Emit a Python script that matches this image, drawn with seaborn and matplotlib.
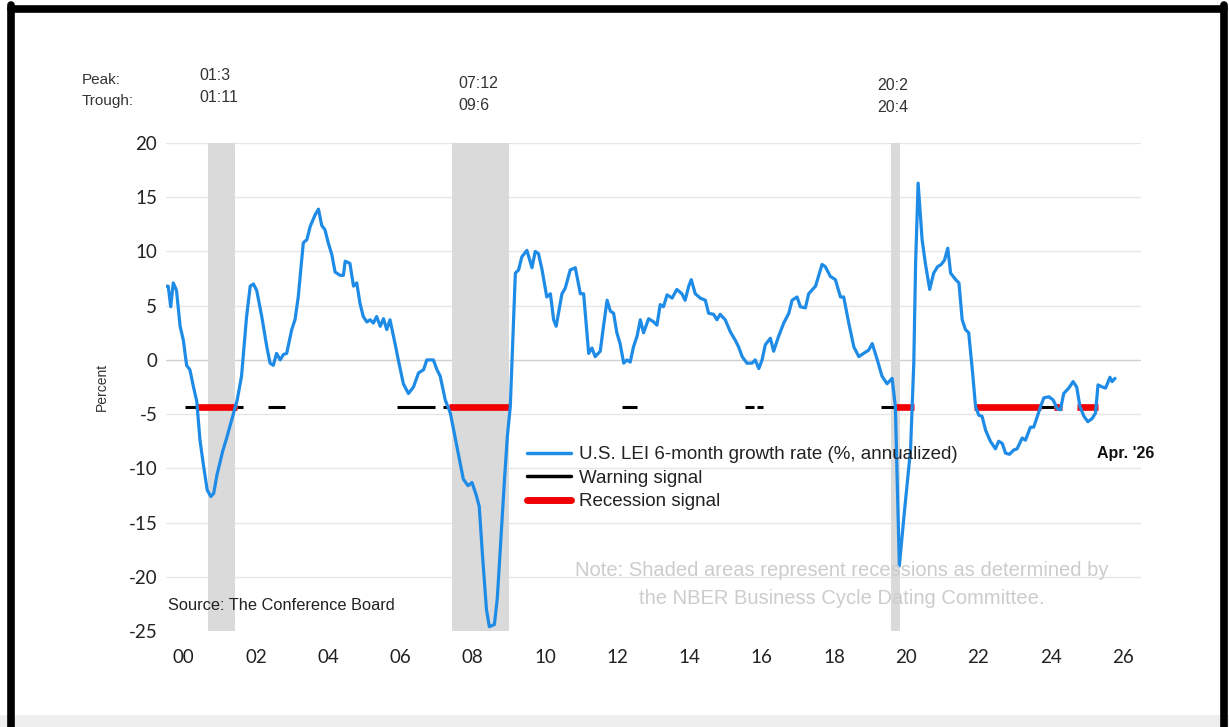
import numpy as np
import seaborn as sns
import pandas as pd
import matplotlib.pyplot as plt
from matplotlib.lines import Line2D
from matplotlib.patches import Rectangle

sns.set_style("white")
plt.rcParams["font.family"] = ["Liberation Sans", "DejaVu Sans"]

# U.S. LEI 6-month growth rate (% annualized)
lei_year = [
    2000.00, 2000.07, 2000.14, 2000.21, 2000.30, 2000.40, 2000.49, 2000.58, 2000.67, 2000.77,
    2000.86, 2000.95, 2001.05, 2001.15, 2001.25, 2001.33, 2001.42, 2001.50, 2001.58, 2001.68,
    2001.78, 2001.98, 2002.10, 2002.24, 2002.34, 2002.43, 2002.52, 2002.66, 2002.80, 2002.89,
    2002.98, 2003.07, 2003.17, 2003.26, 2003.35, 2003.49, 2003.58, 2003.67, 2003.81, 2003.91,
    2004.00, 2004.14, 2004.23, 2004.32, 2004.41, 2004.50, 2004.60, 2004.69, 2004.83, 2004.92,
    2004.97, 2005.10, 2005.20, 2005.29, 2005.38, 2005.47, 2005.57, 2005.66, 2005.75, 2005.84,
    2005.94, 2006.03, 2006.12, 2006.21, 2006.35, 2006.44, 2006.58, 2006.72, 2006.86, 2007.00,
    2007.14, 2007.23, 2007.32, 2007.41, 2007.51, 2007.60, 2007.74, 2007.88, 2008.01, 2008.15,
    2008.24, 2008.37, 2008.48, 2008.60, 2008.68, 2008.77, 2008.88, 2008.96, 2009.10, 2009.18,
    2009.27, 2009.38, 2009.46, 2009.54, 2009.68, 2009.77, 2009.86, 2010.00, 2010.14, 2010.23,
    2010.32, 2010.42, 2010.55, 2010.65, 2010.74, 2010.81, 2010.97, 2011.06, 2011.20, 2011.34,
    2011.48, 2011.57, 2011.71, 2011.80, 2011.89, 2012.03, 2012.12, 2012.22, 2012.31, 2012.40,
    2012.49, 2012.58, 2012.68, 2012.77, 2012.86, 2012.95, 2013.05, 2013.14, 2013.23, 2013.37,
    2013.51, 2013.60, 2013.69, 2013.78, 2013.88, 2014.02, 2014.15, 2014.29, 2014.38, 2014.48,
    2014.55, 2014.66, 2014.80, 2014.94, 2015.03, 2015.17, 2015.26, 2015.35, 2015.49, 2015.63,
    2015.77, 2015.86, 2015.96, 2016.09, 2016.23, 2016.32, 2016.42, 2016.51, 2016.60, 2016.74,
    2016.83, 2016.97, 2017.11, 2017.25, 2017.34, 2017.48, 2017.57, 2017.71, 2017.80, 2017.99,
    2018.17, 2018.26, 2018.40, 2018.54, 2018.68, 2018.77, 2018.91, 2019.05, 2019.19, 2019.32,
    2019.46, 2019.56, 2019.70, 2019.83, 2019.97, 2020.11, 2020.20, 2020.31, 2020.45, 2020.62,
    2020.71, 2020.76, 2020.83, 2020.94, 2021.03, 2021.15, 2021.26, 2021.37, 2021.47, 2021.56,
    2021.65, 2021.73, 2021.87, 2021.96, 2022.05, 2022.14, 2022.23, 2022.33, 2022.42, 2022.51,
    2022.60, 2022.70, 2022.83, 2022.97, 2023.06, 2023.16, 2023.25, 2023.36, 2023.48, 2023.57,
    2023.71, 2023.80, 2023.94, 2024.03, 2024.13, 2024.22, 2024.31, 2024.45, 2024.57, 2024.68,
    2024.77, 2024.86, 2025.00, 2025.12, 2025.22, 2025.31, 2025.42, 2025.53, 2025.65, 2025.74,
    2025.81, 2025.93, 2026.02, 2026.14, 2026.20, 2026.28,
]
lei_value = [
    6.8, 6.8, 4.9, 7.1, 6.4, 3.1, 1.8, -0.5, -0.9, -2.5,
    -3.8, -7.4, -9.8, -12.0, -12.6, -12.3, -10.6, -9.5, -8.4, -7.3,
    -6.1, -3.7, -1.5, 4.0, 6.8, 7.0, 6.4, 4.0, 1.2, -0.3,
    -0.5, 0.6, 0.0, 0.5, 0.6, 2.8, 3.7, 5.8, 10.8, 11.1,
    12.3, 13.4, 13.9, 12.4, 12.0, 10.8, 9.7, 8.1, 7.8, 7.8,
    9.1, 8.9, 6.8, 7.1, 5.2, 4.0, 3.5, 3.7, 3.4, 4.0,
    3.1, 3.8, 2.8, 3.7, 1.5, 0.0, -2.2, -3.1, -2.5, -1.2,
    -0.9, 0.0, 0.0, 0.0, -0.9, -1.5, -3.7, -4.9, -7.1, -9.5,
    -11.0, -11.6, -11.3, -12.5, -13.5, -18.0, -23.0, -24.6, -24.4, -22.0,
    -17.0, -11.0, -7.0, -4.3, 8.0, 8.3, 9.5, 10.1, 8.5, 10.0,
    9.8, 8.3, 5.8, 6.1, 3.7, 3.1, 6.1, 6.6, 8.3, 8.5,
    6.1, 6.1, 0.6, 1.1, 0.3, 0.8, 3.1, 5.5, 4.5, 4.3,
    2.5, 1.5, -0.3, 0.0, -0.2, 1.2, 2.2, 3.7, 2.5, 3.8,
    3.5, 3.2, 5.1, 4.9, 6.0, 5.7, 6.5, 6.1, 5.5, 6.8,
    7.4, 6.1, 5.7, 5.5, 4.3, 4.2, 3.7, 4.2, 3.7, 2.6,
    1.8, 1.2, 0.3, -0.3, -0.3, 0.0, -0.8, 0.0, 1.4, 2.0,
    0.8, 2.2, 3.4, 4.3, 5.5, 5.8, 4.9, 4.8, 6.1, 6.8,
    8.8, 8.6, 7.7, 7.4, 5.8, 5.8, 3.4, 1.2, 0.3, 0.6,
    0.9, 1.5, 0.0, -1.5, -2.2, -1.7, -4.3, -19.0, -14.0, -8.3,
    -0.3, 8.9, 16.3, 11.1, 8.9, 6.5, 8.0, 8.6, 8.8, 9.2,
    10.3, 8.0, 7.4, 7.1, 3.7, 2.8, 2.5, -0.9, -4.3, -5.1,
    -5.2, -6.5, -7.5, -8.2, -7.5, -7.7, -8.6, -8.7, -8.3, -8.2,
    -7.2, -7.4, -6.2, -6.2, -5.2, -4.3, -3.5, -3.4, -3.7, -4.5,
    -4.6, -3.1, -2.6, -2.0, -2.5, -4.3, -5.2, -5.7, -5.4, -4.9,
    -2.3, -2.5, -2.6, -1.6, -2.0, -1.7,
]

# NBER recessions (peak, trough) as year + month
rec_peak = [(2001, 3), (2007, 12), (2020, 2)]
rec_trough = [(2001, 11), (2009, 6), (2020, 4)]
rec_labels = [("01:3", "01:11"), ("07:12", "09:6"), ("20:2", "20:4")]

# signal segments on the -4.3 line
signal_level = -4.3
warn_start = [2000.53, 2001.98, 2002.84, 2006.40, 2007.69, 2012.63, 2016.03, 2016.37, 2019.79, 2024.22]
warn_end = [2000.86, 2002.15, 2003.30, 2007.46, 2007.83, 2013.06, 2016.28, 2016.53, 2020.16, 2024.59]
rec_sig_start = [2000.86, 2007.83, 2020.16, 2022.39, 2024.59, 2025.24]
rec_sig_end = [2001.98, 2009.54, 2020.71, 2024.22, 2024.82, 2025.81]

xtick_years = list(range(2000, 2027, 2))
xtick_labels = ["%02d" % (y % 100) for y in xtick_years]
ytick_values = [20, 15, 10, 5, 0, -5, -10, -15, -20, -25]

BLUE = "#1E8BE6"
RED = "#F00000"
W, H = 1229, 727

df = pd.DataFrame({"year": lei_year, "lei": lei_value})

fig = plt.figure(figsize=(12.29, 7.27), dpi=100)
ax = fig.add_axes([0.1348, 0.132, 0.7936, 0.6713])

# recession shading
for (py, pm), (ty, tm) in zip(rec_peak, rec_trough):
    ax.axvspan(py + (pm - 1) / 12, ty + tm / 12, color="#dadada", lw=0, zorder=1)

# grid lines
for v in ytick_values[:-1]:
    ax.axhline(v, color="#cfcfcf" if v == 0 else "#e6e6e6", lw=1.0, zorder=0.5)

# signals
for s, e in zip(warn_start, warn_end):
    ax.plot([s, e], [signal_level, signal_level], color="black", lw=2.2, zorder=3,
            solid_capstyle="butt")
for s, e in zip(rec_sig_start, rec_sig_end):
    ax.plot([s, e], [signal_level, signal_level], color=RED, lw=4.8, zorder=3,
            solid_capstyle="butt")

sns.lineplot(data=df, x="year", y="lei", ax=ax, color=BLUE, lw=2.3, sort=False,
             estimator=None, zorder=4)

ax.set_xlim(2000, 2027)
ax.set_ylim(-25, 20)
for sp in ax.spines.values():
    sp.set_visible(False)

ax.set_yticks(ytick_values)
ax.set_yticklabels([str(v) for v in ytick_values], family=["Lato", "DejaVu Sans"],
                   fontsize=13.5, color="#222222")
ax.tick_params(axis="y", length=0, pad=6)

ax.set_xticks([y + 0.5 for y in xtick_years])
ax.set_xticklabels(xtick_labels, family=["Lato", "DejaVu Sans"], fontsize=13.5,
                   color="#222222")
ax.set_xticks(range(2000, 2028), minor=True)
ax.tick_params(axis="x", which="major", length=0, pad=13)
ax.tick_params(axis="x", which="minor", length=4, width=1, color="#c8c8c8",
               direction="out")

ax.set_xlabel("")
ax.set_ylabel("Percent", fontsize=10, color="#333333", labelpad=14)

# peak / trough labels
fig.text(82 / W, 1 - 80 / H, "Peak:", fontsize=11, color="#333333", va="center")
fig.text(82 / W, 1 - 101 / H, "Trough:", fontsize=11, color="#333333", va="center")
label_pos = [(199, 76), (458, 84), (877, 86)]
for (pk, tr), (lx, ly) in zip(rec_labels, label_pos):
    fig.text(lx / W, 1 - ly / H, pk, fontsize=11.5, color="#333333", va="center")
    fig.text(lx / W, 1 - (ly + 21) / H, tr, fontsize=11.5, color="#333333", va="center")

# legend
handles = [Line2D([], [], color=BLUE, lw=2.5),
           Line2D([], [], color="black", lw=2.5),
           Line2D([], [], color=RED, lw=5)]
fig.legend(handles, ["U.S. LEI 6-month growth rate (%, annualized)", "Warning signal",
                     "Recession signal"],
           loc="upper left", bbox_to_anchor=(527 / W, 1 - 446 / H), frameon=False,
           fontsize=13.5, handlelength=2.35, handletextpad=0.4, labelspacing=0.34,
           borderpad=0, borderaxespad=0, labelcolor="#222222")

fig.text(1097 / W, 1 - 453 / H, "Apr. '26", fontsize=11.5, fontweight="bold",
         color="#111111", va="center")

fig.text(168 / W, 1 - 605 / H, "Source: The Conference Board",
         family=["Liberation Sans Narrow", "Liberation Sans"], fontsize=11.8,
         color="#222222", va="center")
fig.text(842 / W, 1 - 571 / H,
         "Note: Shaded areas represent recessions as determined by",
         family=["Liberation Sans Narrow", "Liberation Sans"], fontsize=14.5,
         color="#cccccc", ha="center", va="center")
fig.text(842 / W, 1 - 598 / H, "the NBER Business Cycle Dating Committee.",
         family=["Liberation Sans Narrow", "Liberation Sans"], fontsize=14.5,
         color="#cccccc", ha="center", va="center")

# outer frame: black top/left/right, pale band at the bottom
fig.patches.append(Rectangle((0, 0), 1, 12 / H, transform=fig.transFigure,
                             color="#eeeeee", lw=0, zorder=9))
for xs, ys in [([10.5, 1224], [9, 9]), ([10.5, 10.5], [5, 727]), ([1224, 1224], [5, 727])]:
    fig.lines.append(Line2D([x / W for x in xs], [1 - y / H for y in ys],
                            transform=fig.transFigure, color="black", lw=5.5, zorder=10))

fig.savefig("out.png", dpi=100)
